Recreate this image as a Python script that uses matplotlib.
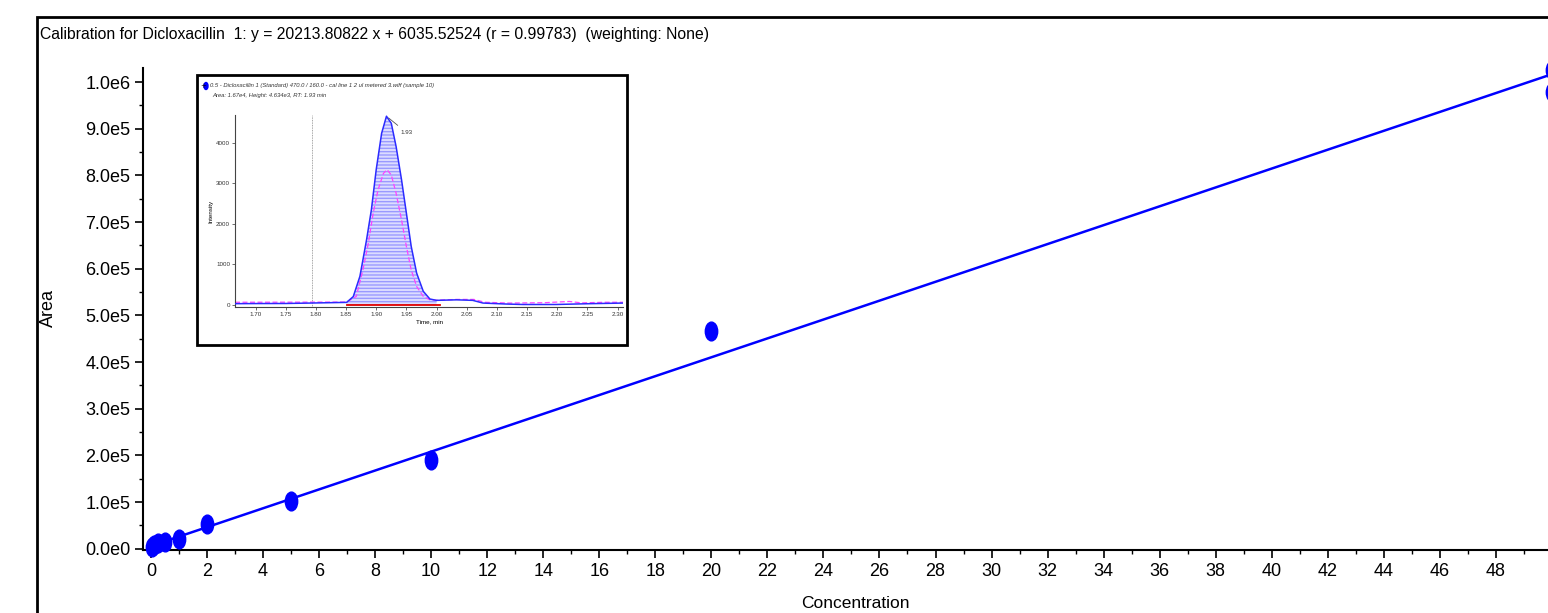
import numpy as np
import matplotlib
matplotlib.use("Agg")
import matplotlib.pyplot as plt
from matplotlib.path import Path
from matplotlib.patches import Rectangle, Ellipse
from matplotlib.transforms import Affine2D
from matplotlib.ticker import MultipleLocator, FuncFormatter
from matplotlib import font_manager

# ---------------- data ----------------
concentration = [0.05, 0.1, 0.25, 0.5, 1, 2, 5, 10, 20, 50, 50]
area = [4.0e3, 8.0e3, 1.2e4, 1.5e4, 2.2e4, 5.3e4, 1.03e5, 1.9e5, 4.67e5, 1.026e6, 0.979e6]
slope = 20213.80822
intercept = 6035.52524
fit_x = [0, 50]

title_text = "Calibration for Dicloxacillin  1: y = 20213.80822 x + 6035.52524 (r = 0.99783)  (weighting: None)"
x_ticks = list(range(0, 50, 2))
y_ticks = [0, 1e5, 2e5, 3e5, 4e5, 5e5, 6e5, 7e5, 8e5, 9e5, 1e6]

# inset chromatogram
chrom_time = [1.666, 1.700, 1.750, 1.790, 1.851, 1.862, 1.873, 1.884, 1.892, 1.900, 1.909,
              1.917, 1.925, 1.933, 1.942, 1.950, 1.958, 1.967, 1.978, 1.989, 2.000,
              2.033, 2.060, 2.077, 2.116, 2.143, 2.198, 2.254, 2.309]
chrom_total = [25, 28, 30, 40, 57, 200, 700, 1600, 2340, 3330, 4230,
               4650, 4475, 3900, 3080, 2260, 1440, 780, 330, 140, 107,
               120, 107, 40, 16, 5, 5, 25, 40]
chrom2_time = [1.666, 1.750, 1.851, 1.867, 1.878, 1.887, 1.895, 1.903, 1.912, 1.918, 1.925,
               1.933, 1.942, 1.950, 1.958, 1.967, 1.978, 1.989, 2.000, 2.033, 2.062,
               2.080, 2.120, 2.180, 2.220, 2.240, 2.280, 2.309]
chrom2_int = [60, 62, 65, 205, 860, 1520, 2260, 2830, 3240, 3330, 3200,
              2750, 2090, 1440, 860, 450, 205, 120, 110, 130, 130,
              60, 40, 50, 80, 45, 60, 60]
peak_start, peak_end = 1.851, 2.005
marker_line_t = 1.793
inset_yticks = [0, 1000, 2000, 3000, 4000]
inset_xticks = [1.70, 1.75, 1.80, 1.85, 1.90, 1.95, 2.00, 2.05, 2.10, 2.15, 2.20, 2.25, 2.30]
inset_header1 = "0.5 - Dicloxacillin 1 (Standard) 470.0 / 160.0 - cal line 1 2 ul metered 3.wiff (sample 10)"
inset_header2 = "Area: 1.67e4, Height: 4.634e3, RT: 1.93 min"
peak_label = "1.93"

# ---------------- fonts ----------------
names = {f.name for f in font_manager.fontManager.ttflist}
narrow = "Liberation Sans Narrow" if "Liberation Sans Narrow" in names else "Liberation Sans"
NARROW = [narrow, "DejaVu Sans"]
REG = ["Liberation Sans", "DejaVu Sans"]

W, H = 1548, 613
fig = plt.figure(figsize=(W / 100, H / 100), dpi=100)

def fx(px):
    return px / W

def fy(py):
    return 1 - py / H

# outer frame (runs off right / bottom)
fig.patches.append(Rectangle((fx(37), fy(640)), fx(1600) - fx(37), fy(17) - fy(640),
                             transform=fig.transFigure, fill=False, lw=2, ec="black"))
fig.text(fx(40), fy(35), title_text, ha="left", va="center", fontsize=11.3, family=NARROW)

# main axes
ax = fig.add_axes([fx(143), fy(550), fx(W) - fx(143), fy(68) - fy(550)])
for s in ("top", "right"):
    ax.spines[s].set_visible(False)
for s in ("left", "bottom"):
    ax.spines[s].set_linewidth(1.5)

ellipse = Path.unit_circle().transformed(Affine2D().scale(0.66, 1.0))
fx_arr = np.array(fit_x, dtype=float)
ax.plot(fx_arr, slope * fx_arr + intercept, color="#0000ff", lw=1.8, zorder=2)
ax.plot(concentration, area, linestyle="none", marker=ellipse, markersize=13.5,
        color="#0000ff", markeredgecolor="#0000ff", zorder=3, clip_on=False)

ax.set_xlim(-0.285, 49.86)
ax.set_ylim(-2500, 1.03e6)
ax.set_xticks(x_ticks)
ax.set_yticks(y_ticks)
ax.xaxis.set_minor_locator(MultipleLocator(1))
ax.yaxis.set_minor_locator(MultipleLocator(5e4))

def sci(v, pos):
    if v == 0:
        return "0.0e0"
    e = int(np.floor(np.log10(abs(v)) + 1e-9))
    return f"{v / 10 ** e:.1f}e{e}"

ax.yaxis.set_major_formatter(FuncFormatter(sci))
ax.tick_params(which="major", length=6, width=1.2, pad=3, labelsize=13)
ax.tick_params(which="minor", length=3, width=1.0)
for lab in ax.get_xticklabels() + ax.get_yticklabels():
    lab.set_family(NARROW)

fig.text(fx(48), fy(308), "Area", rotation=90, ha="center", va="center", fontsize=13, family=REG)
fig.text(fx(855), fy(611), "Concentration", ha="center", va="bottom", fontsize=12.5, family=NARROW)

# inset box
fig.patches.append(Rectangle((fx(197), fy(345)), fx(627) - fx(197), fy(75) - fy(345),
                             transform=fig.transFigure, fill=True, fc="white", lw=2, ec="black",
                             zorder=5))
iax = fig.add_axes([fx(235), fy(307), fx(623) - fx(235), fy(115) - fy(307)], zorder=6)
iax.set_facecolor("white")
for s in ("top", "right"):
    iax.spines[s].set_visible(False)
for s in ("left", "bottom"):
    iax.spines[s].set_linewidth(0.8)
    iax.spines[s].set_color("#444444")
iax.set_xlim(1.666, 2.309)
iax.set_ylim(-57, 4680)
iax.set_xticks(inset_xticks)
iax.set_xticklabels([f"{t:.2f}" for t in inset_xticks])
iax.set_yticks(inset_yticks)
iax.tick_params(length=2, width=0.5, pad=1.5, labelsize=4.5, colors="#333333")
for lab in iax.get_xticklabels() + iax.get_yticklabels():
    lab.set_family(NARROW)

ct = np.array(chrom_time)
ci = np.array(chrom_total)
mask = (ct >= peak_start) & (ct <= peak_end)
iax.fill_between(ct[mask], 0, ci[mask], facecolor="#dcdcff", edgecolor="#9a9aff",
                 hatch="-----", lw=0, zorder=1)
iax.plot(chrom2_time, chrom2_int, color="#ff44ff", lw=0.9, ls=(0, (4, 2)), zorder=2)
iax.plot(chrom_time, chrom_total, color="#2b2bff", lw=1.1, zorder=3)
iax.plot([peak_start, peak_end], [0, 0], color="#e00000", lw=1.3, zorder=4)
iax.axvline(marker_line_t, color="#888888", lw=0.6, ls=(0, (1, 1)), zorder=0)
iax.annotate(peak_label, xy=(1.917, 4650), xytext=(1.940, 4250), fontsize=4.5, family=NARROW,
             color="#333333", ha="left", va="center",
             arrowprops=dict(arrowstyle="-", color="#555555", lw=0.6))
iax.set_ylabel("Intensity", fontsize=4.5, family=NARROW, labelpad=2)
iax.set_xlabel("Time, min", fontsize=4.5, family=NARROW, labelpad=1.5)

fig.text(fx(200), fy(86), "+", fontsize=5, ha="left", va="center", zorder=7)
fig.patches.append(Ellipse((fx(206), fy(86)), fx(4), 7 / H,
                           transform=fig.transFigure, color="#0000ff", zorder=7))
fig.text(fx(210), fy(86), inset_header1, fontsize=4.2, style="italic", ha="left", va="center",
         family=NARROW, color="#333333", zorder=7)
fig.text(fx(212), fy(96), inset_header2, fontsize=4.2, style="italic", ha="left", va="center",
         family=NARROW, color="#333333", zorder=7)

fig.savefig("out.png", dpi=100)
